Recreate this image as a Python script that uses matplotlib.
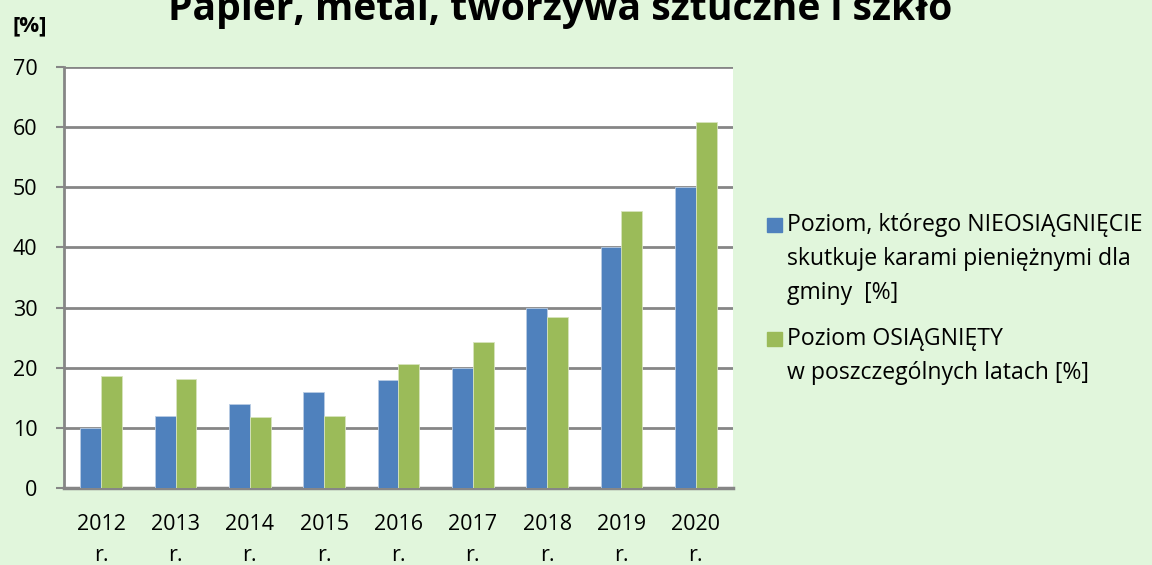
import matplotlib.pyplot as plt
import numpy as np
from matplotlib.patches import Rectangle

plt.rcParams['font.family'] = ['Open Sans', 'DejaVu Sans']

years = ['2012', '2013', '2014', '2015', '2016', '2017', '2018', '2019', '2020']
required = [10, 12, 14, 16, 18, 20, 30, 40, 50]
achieved = [18.7, 18.2, 11.8, 12.0, 20.7, 24.3, 28.5, 46.0, 60.9]
labels = ['Poziom, którego NIEOSIĄGNIĘCIE\nskutkuje karami pieniężnymi dla\ngminy  [%]',
          'Poziom OSIĄGNIĘTY\nw poszczególnych latach [%]']
title = 'Papier, metal, tworzywa sztuczne i szkło'

blue = '#4F81BD'
green = '#9BBB59'
bg = '#E1F6DC'

fig = plt.figure(figsize=(11.52, 5.65), dpi=100, facecolor=bg)
ax = fig.add_axes([64 / 1152, 77 / 565, 669 / 1152, 421 / 565])
ax.set_facecolor('white')

x = np.arange(len(years))
w = 0.28
ax.bar(x - w / 2, required, w, color=blue, edgecolor='#B8CCE4', linewidth=0.6, zorder=3)
ax.bar(x + w / 2, achieved, w, color=green, edgecolor='#D7E4BD', linewidth=0.6, zorder=3)

ax.set_xlim(-0.5, len(years) - 0.5)
ax.set_ylim(0, 70)
ax.set_yticks(range(0, 71, 10))
ax.yaxis.grid(True, color='#868686', linewidth=2, zorder=1)
ax.set_xticks(x)
ax.set_xticklabels([y + '\nr.' for y in years], fontsize=15.5, linespacing=1.6)
ax.tick_params(axis='x', length=0, pad=19)
ax.tick_params(axis='y', length=6, width=1.5, color='#868686', labelsize=15.5, pad=13)
for s in ['top', 'right']:
    ax.spines[s].set_visible(False)
ax.spines['left'].set_color('#868686')
ax.spines['left'].set_linewidth(2)
ax.spines['bottom'].set_color('#868686')
ax.spines['bottom'].set_linewidth(2.5)

# title is cropped at the top edge, as in the original
fig.text(560 / 1152, 1 - 20 / 565, title, ha='center', va='baseline', fontsize=28.2,
         fontweight='bold')
fig.text(12 / 1152, 1 - 31 / 565, '[%]', ha='left', va='baseline', fontsize=16,
         fontweight='bold')

# legend
for lab, col, ytop in [(labels[0], blue, 218), (labels[1], green, 332)]:
    fig.patches.append(Rectangle((767 / 1152, 1 - (ytop + 14) / 565), 15 / 1152, 14 / 565,
                                 transform=fig.transFigure, color=col))
    fig.text(787 / 1152, 1 - (ytop - 5) / 565, lab, ha='left', va='top',
             fontsize=16.6, linespacing=1.56)

fig.savefig('out.png', dpi=100, facecolor=bg)
